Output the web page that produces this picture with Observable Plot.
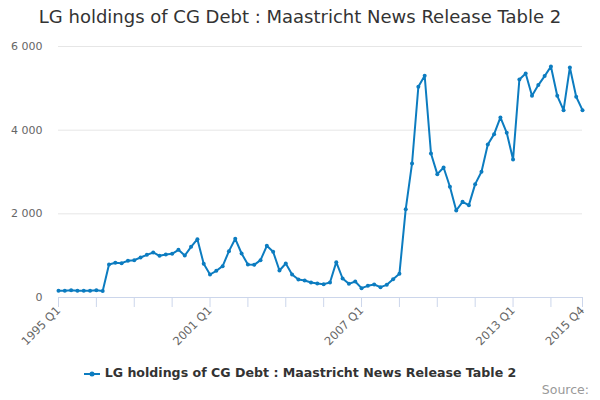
<!DOCTYPE html>
<html>
<head>
<meta charset="utf-8">
<script src="https://cdn.jsdelivr.net/npm/d3@7"></script>
<script src="https://cdn.jsdelivr.net/npm/@observablehq/plot@0.6"></script>
<style>
  body { margin: 0; background: #fff; font-family: "DejaVu Sans", sans-serif; }
  #wrap { position: relative; width: 600px; height: 400px; overflow: hidden; }
  #title { position: absolute; top: 6px; left: 0; width: 600px; text-align: center; font-size: 18px; color: #333; }
  #vis { position: absolute; top: 0; left: 0; }
  #legend { position: absolute; top: 365px; left: 0; width: 600px; text-align: center; font-size: 12.6px; font-weight: bold; color: #333; }
  #legend svg { vertical-align: middle; margin-right: 5px; }
  #source { position: absolute; top: 382px; right: 11px; font-size: 12.5px; color: #999; }
</style>
</head>
<body>
<div id="wrap">
  <div id="title">LG holdings of CG Debt : Maastricht News Release Table 2</div>
  <div id="vis"></div>
  <div id="legend"><svg width="16" height="10"><line x1="0" y1="5" x2="16" y2="5" stroke="#0c7cc0" stroke-width="2"/><circle cx="8" cy="5" r="2.5" fill="#0c7cc0"/></svg>LG holdings of CG Debt : Maastricht News Release Table 2</div>
  <div id="source">Source:</div>
</div>
<script>
// quarterly, 1995 Q1 .. 2015 Q4
let quarters = []
for (let yr = 1995; yr <= 2015; yr++) {
  for (let q = 1; q <= 4; q++) quarters.push(yr + ' Q' + q)
}

let values = [
  160, 160, 175, 160, 160, 160, 175, 155, 789, 829,
  821, 877, 893, 956, 1020, 1076, 996, 1028, 1044, 1140,
  1004, 1211, 1395, 805, 550, 638, 749, 1108, 1403, 1052,
  789, 781, 893, 1235, 1092, 646, 813, 550, 430, 406,
  359, 335, 319, 359, 845, 454, 327, 383, 223, 279,
  311, 247, 303, 438, 566, 2112, 3204, 5037, 5300, 3443,
  2949, 3108, 2646, 2080, 2287, 2208, 2710, 3005, 3658, 3905,
  4304, 3937, 3300, 5212, 5356, 4822, 5077, 5292, 5523, 4822,
  4479, 5499, 4798, 4479
]

let labelTicks = [0, 24, 48, 72, 83]
let allTicks = [0, 6, 12, 18, 24, 30, 36, 42, 48, 54, 60, 66, 72, 78, 83]
let yTicks = [0, 2000, 4000, 6000]

let data = values.map((v, i) => ({i: i, q: quarters[i], v: v}))

let fmt = d3.formatLocale({decimal: '.', thousands: ' ', grouping: [3], currency: ['', '']}).format(',')

let chart = Plot.plot({
  width: 600,
  height: 400,
  marginTop: 46,
  marginBottom: 103,
  marginLeft: 58,
  marginRight: 18,
  x: {domain: [0, 83]},
  y: {domain: [0, 6000]},
  style: {fontFamily: 'DejaVu Sans, sans-serif', fontSize: '11px', color: '#666', background: 'transparent'},
  marks: [
    Plot.gridY([2000, 4000, 6000], {stroke: '#e6e6e6', strokeOpacity: 1}),
    Plot.axisY(yTicks, {tickSize: 0, tickPadding: 16, tickFormat: fmt, label: null, fill: '#666'}),
    Plot.ruleY([0], {stroke: '#ccd6eb'}),
    Plot.axisX(allTicks, {tickSize: 10, stroke: '#ccd6eb', text: null, label: null}),
    Plot.axisX(labelTicks, {tickSize: 0, tickRotate: -45, tickPadding: 11, tickFormat: d => quarters[d], label: null, fill: '#666', fontSize: 11.5}),
    Plot.line(data, {x: 'i', y: 'v', stroke: '#0c7cc0', strokeWidth: 2}),
    Plot.dot(data, {x: 'i', y: 'v', r: 2, fill: '#0c7cc0'})
  ]
})
d3.select('#vis').append(() => chart)
</script>
</body>
</html>
